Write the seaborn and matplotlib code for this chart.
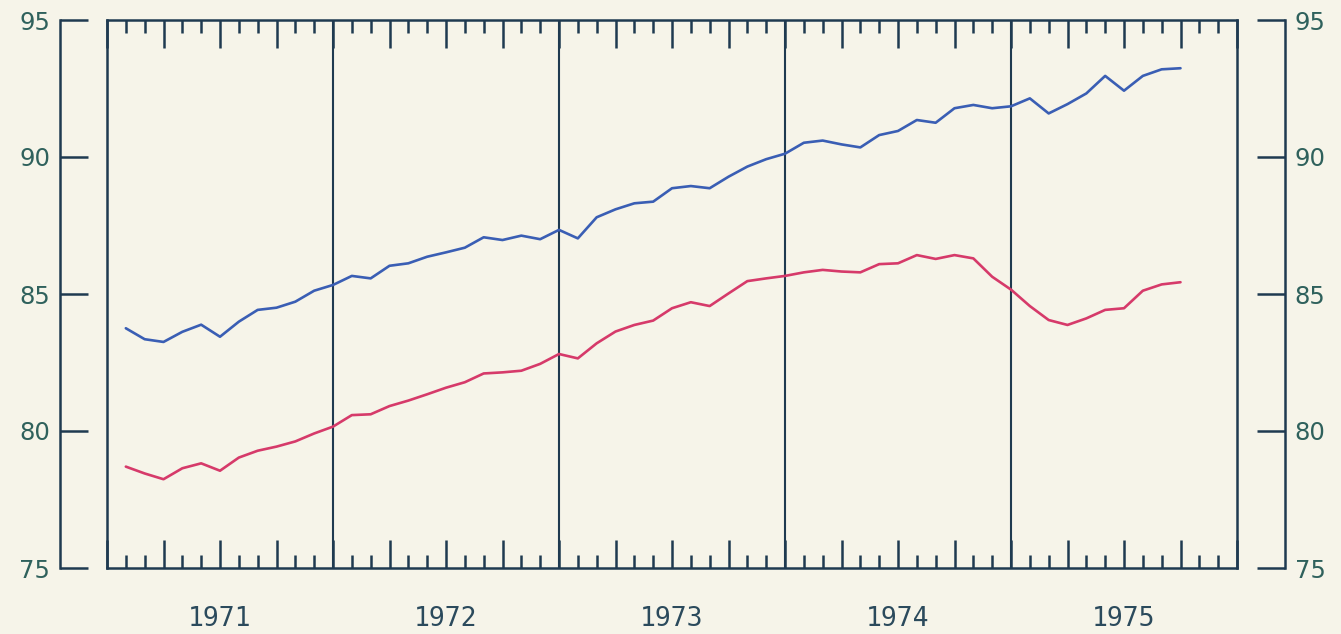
import numpy as np
import pandas as pd
import matplotlib
matplotlib.use("Agg")
import matplotlib.pyplot as plt
import matplotlib.transforms as mtransforms
import seaborn as sns

# ---------------- data ----------------
years = ["1971", "1972", "1973", "1974", "1975"]
series_names = ["Upper series", "Lower series"]
blue_values = [83.75, 83.35, 83.25, 83.62, 83.88, 83.44, 83.99, 84.42, 84.50, 84.72, 85.12, 85.33,
               85.66, 85.57, 86.03, 86.12, 86.36, 86.52, 86.69, 87.07, 86.97, 87.13, 87.00, 87.34,
               87.03, 87.80, 88.09, 88.31, 88.37, 88.86, 88.94, 88.86, 89.28, 89.65, 89.92, 90.12,
               90.52, 90.60, 90.46, 90.35, 90.80, 90.95, 91.35, 91.25, 91.78, 91.90, 91.78, 91.85,
               92.14, 91.59, 91.93, 92.32, 92.96, 92.42, 92.96, 93.20, 93.24]
red_values = [78.70, 78.45, 78.24, 78.64, 78.82, 78.55, 79.03, 79.28, 79.43, 79.62, 79.91, 80.16,
              80.58, 80.61, 80.91, 81.11, 81.34, 81.58, 81.78, 82.10, 82.14, 82.20, 82.45, 82.81,
              82.65, 83.20, 83.63, 83.87, 84.03, 84.48, 84.70, 84.56, 85.02, 85.47, 85.57, 85.66,
              85.79, 85.88, 85.82, 85.79, 86.09, 86.12, 86.42, 86.28, 86.42, 86.30, 85.63, 85.16,
              84.56, 84.05, 83.87, 84.11, 84.42, 84.48, 85.12, 85.35, 85.43]
y_ticks = [75, 80, 85, 90, 95]

# ---------------- style ----------------
BG = "#f6f4e9"
INK = "#1f3a50"
LABEL = "#2f615c"
YEARC = "#2b4a5c"
BLUE = "#3a5eb4"
RED = "#d63a6a"

sns.set_theme(style="white")
plt.rcParams["font.family"] = ["DejaVu Sans"]

W, H = 1341, 634
fig = plt.figure(figsize=(W / 100, H / 100), dpi=100, facecolor=BG)


def px_rect(x0, y0, x1, y1):
    return [x0 / W, 1 - y1 / H, (x1 - x0) / W, (y1 - y0) / H]


# main panel
ax = fig.add_axes(px_rect(107, 20, 1237, 568))
ax.set_facecolor(BG)
months = np.arange(1, len(blue_values) + 1)
df = pd.DataFrame({
    "month": np.concatenate([months, months]),
    "value": blue_values + red_values,
    "series": [series_names[0]] * len(blue_values) + [series_names[1]] * len(red_values),
})
sns.lineplot(data=df, x="month", y="value", hue="series", palette=[BLUE, RED],
             linewidth=1.9, legend=False, ax=ax)
n_months = 12 * len(years)
ax.set_xlim(0, n_months)
ax.set_ylim(y_ticks[0], y_ticks[-1])
ax.set_xlabel("")
ax.set_ylabel("")
ax.set_yticks([])
ax.set_xticks(np.arange(0, n_months + 1, 3))
ax.set_xticks(np.arange(0, n_months + 1, 1), minor=True)
ax.tick_params(axis="x", which="major", direction="in", length=20, width=1.8, color=INK,
               top=True, bottom=True, labelbottom=False, labeltop=False)
ax.tick_params(axis="x", which="minor", direction="in", length=9.5, width=1.8, color=INK,
               top=True, bottom=True)
for s in ax.spines.values():
    s.set_visible(True)
    s.set_color(INK)
    s.set_linewidth(1.8)
for k in range(1, len(years)):
    ax.axvline(12 * k, color=INK, lw=1.5, zorder=1)

trans = mtransforms.blended_transform_factory(ax.transData, ax.transAxes)
for i, yr in enumerate(years):
    ax.text(12 * i + 6, -0.093, yr, transform=trans, ha="center", va="center",
            fontsize=19, color=YEARC, family="DejaVu Sans Mono")

# left scale
axl = fig.add_axes(px_rect(60, 20, 90, 568))
axl.patch.set_alpha(0)
axl.set_ylim(y_ticks[0], y_ticks[-1])
axl.set_xticks([])
axl.set_yticks(y_ticks)
for side in ["top", "right", "bottom"]:
    axl.spines[side].set_visible(False)
axl.spines["left"].set_color(INK)
axl.spines["left"].set_linewidth(1.8)
axl.tick_params(axis="y", direction="in", length=20, width=1.8, color=INK, left=True,
                labelleft=True, labelsize=17.5, labelcolor=LABEL, pad=7)

# right scale
axr = fig.add_axes(px_rect(1255, 20, 1285, 568))
axr.patch.set_alpha(0)
axr.set_ylim(y_ticks[0], y_ticks[-1])
axr.set_xticks([])
axr.yaxis.tick_right()
axr.set_yticks(y_ticks)
for side in ["top", "left", "bottom"]:
    axr.spines[side].set_visible(False)
axr.spines["right"].set_color(INK)
axr.spines["right"].set_linewidth(1.8)
axr.tick_params(axis="y", direction="in", length=20, width=1.8, color=INK, right=True,
                labelright=True, left=False, labelleft=False, labelsize=17.5, labelcolor=LABEL,
                pad=7)

fig.savefig("out.png", dpi=100, facecolor=BG)
